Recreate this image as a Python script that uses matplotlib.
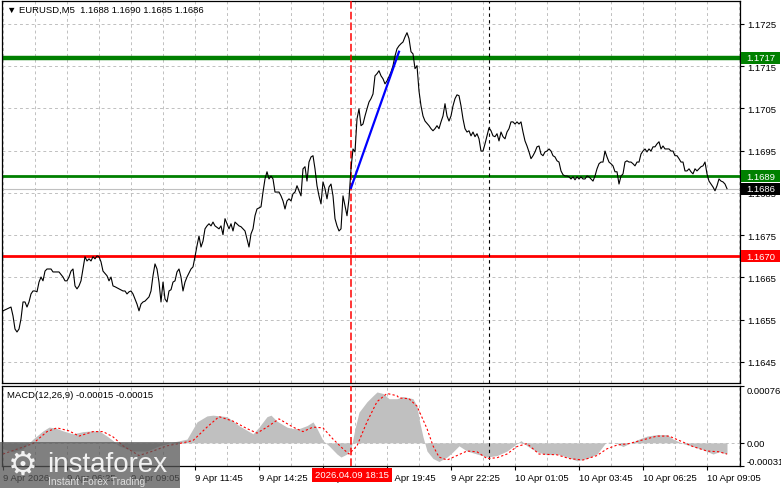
import numpy as np
import matplotlib
matplotlib.use("Agg")
import matplotlib.pyplot as plt
from matplotlib.patches import Rectangle
from matplotlib.transforms import blended_transform_factory

plt.rcParams['font.family'] = ['Liberation Sans', 'DejaVu Sans']

# EURUSD M5, bar numbers counted from 9 Apr 03:45
bar_idx = [0, 4, 5, 6, 7, 8, 9, 10, 11, 12, 13, 14, 15, 16, 17, 18, 19, 20, 21, 22,
           24, 25, 28, 30, 31, 32, 33, 34, 35, 36, 37, 38, 39, 40, 41, 42, 43, 44, 45, 46,
           47, 48, 49, 50, 52, 53, 54, 55, 56, 58, 60, 61, 62, 63, 64, 65, 66, 67, 68, 69,
           70, 71, 73, 74, 75, 76, 77, 78, 79, 80, 81, 82, 83, 84, 85, 86, 87, 88, 89, 90,
           91, 92, 94, 95, 96, 97, 98, 99, 100, 101, 102, 103, 104, 105, 106, 108, 109, 110, 111, 112,
           113, 114, 115, 116, 118, 119, 120, 121, 122, 123, 124, 125, 126, 127, 129, 130, 131, 132, 133, 134,
           135, 136, 138, 139, 140, 141, 142, 143, 144, 145, 146, 147, 148, 149, 150, 151, 152, 153, 154, 155,
           156, 157, 158, 159, 160, 161, 162, 163, 164, 165, 166, 167, 168, 169, 170, 171, 172, 173, 174, 175,
           176, 177, 178, 179, 180, 181, 182, 183, 184, 185, 186, 187, 188, 189, 190, 191, 192, 193, 194, 195,
           196, 197, 198, 199, 200, 201, 202, 203, 204, 205, 206, 207, 208, 209, 210, 211, 213, 214, 215, 216,
           217, 218, 219, 220, 221, 222, 223, 224, 225, 226, 227, 228, 229, 230, 231, 232, 233, 234, 235, 236,
           237, 238, 239, 240, 241, 242, 243, 244, 245, 246, 247, 248, 249, 250, 251, 252, 253, 254, 255, 256,
           257, 258, 259, 260, 261, 262, 263, 264, 265, 266, 267, 268, 269, 270, 271, 272, 273, 274, 275, 276,
           277, 278, 279, 280, 281, 282, 283, 284, 285, 286, 287, 288, 289, 290, 291, 292, 293, 295, 296, 297,
           298, 299, 300, 301, 302, 303, 304, 305, 306, 307, 308, 309, 310, 311, 312, 313, 314, 315, 316, 317,
           318, 319, 320, 321, 322, 323, 324, 325, 326, 327, 328, 329, 330, 331, 332, 333, 334, 335, 336, 337,
           338, 339, 340, 341, 342, 343, 344, 345, 346, 347, 348, 349, 350, 351, 352, 353, 354, 355, 356, 357,
           358, 359, 360, 361, 362]
close = [1.16571, 1.16580, 1.16559, 1.16528, 1.16521, 1.16528, 1.16552, 1.16592, 1.16592, 1.16580,
         1.16592, 1.16611, 1.16618, 1.16618, 1.16616, 1.16639, 1.16651, 1.16642, 1.16665, 1.16670,
         1.16670, 1.16663, 1.16663, 1.16651, 1.16642, 1.16642, 1.16651, 1.16665, 1.16670, 1.16630,
         1.16623, 1.16630, 1.16642, 1.16670, 1.16699, 1.16689, 1.16694, 1.16689, 1.16699, 1.16694,
         1.16701, 1.16699, 1.16687, 1.16665, 1.16654, 1.16642, 1.16651, 1.16630, 1.16628, 1.16623,
         1.16618, 1.16618, 1.16611, 1.16616, 1.16618, 1.16611, 1.16599, 1.16587, 1.16571, 1.16587,
         1.16592, 1.16594, 1.16604, 1.16618, 1.16654, 1.16682, 1.16670, 1.16639, 1.16592, 1.16639,
         1.16599, 1.16592, 1.16618, 1.16621, 1.16639, 1.16642, 1.16663, 1.16670, 1.16651, 1.16618,
         1.16639, 1.16651, 1.16670, 1.16675, 1.16699, 1.16725, 1.16748, 1.16722, 1.16736, 1.16765,
         1.16772, 1.16777, 1.16772, 1.16781, 1.16772, 1.16765, 1.16772, 1.16751, 1.16789, 1.16777,
         1.16765, 1.16777, 1.16760, 1.16781, 1.16772, 1.16770, 1.16765, 1.16760, 1.16741, 1.16722,
         1.16753, 1.16765, 1.16796, 1.16812, 1.16817, 1.16852, 1.16883, 1.16900, 1.16883, 1.16890,
         1.16883, 1.16852, 1.16852, 1.16843, 1.16831, 1.16812, 1.16831, 1.16836, 1.16831, 1.16848,
         1.16852, 1.16867, 1.16855, 1.16843, 1.16907, 1.16912, 1.16878, 1.16923, 1.16935, 1.16938,
         1.16907, 1.16867, 1.16843, 1.16824, 1.16876, 1.16860, 1.16836, 1.16864, 1.16871, 1.16843,
         1.16789, 1.16772, 1.16760, 1.16765, 1.16843, 1.16819, 1.16796, 1.16836, 1.16907, 1.16954,
         1.16947, 1.17025, 1.17049, 1.17009, 1.17013, 1.17032, 1.17049, 1.17065, 1.17073, 1.17084,
         1.17127, 1.17132, 1.17139, 1.17127, 1.17120, 1.17108, 1.17115, 1.17125, 1.17136, 1.17151,
         1.17174, 1.17191, 1.17198, 1.17203, 1.17207, 1.17219, 1.17229, 1.17215, 1.17184, 1.17179,
         1.17144, 1.17151, 1.17091, 1.17056, 1.17032, 1.17020, 1.17009, 1.17002, 1.16997, 1.17002,
         1.17009, 1.17002, 1.17018, 1.17032, 1.17061, 1.17032, 1.17020, 1.17032, 1.17056, 1.17073,
         1.17082, 1.17080, 1.17056, 1.17025, 1.17002, 1.16994, 1.16997, 1.16985, 1.16994, 1.16983,
         1.16990, 1.16978, 1.16949, 1.16949, 1.16966, 1.16985, 1.17004, 1.16997, 1.16985, 1.16983,
         1.16990, 1.16973, 1.16994, 1.16983, 1.16978, 1.16994, 1.17002, 1.17018, 1.17018, 1.17013,
         1.17018, 1.17013, 1.17018, 1.16994, 1.16973, 1.16961, 1.16947, 1.16931, 1.16938, 1.16947,
         1.16959, 1.16961, 1.16942, 1.16938, 1.16947, 1.16949, 1.16954, 1.16949, 1.16938, 1.16935,
         1.16926, 1.16923, 1.16902, 1.16893, 1.16890, 1.16890, 1.16888, 1.16883, 1.16888, 1.16881,
         1.16888, 1.16883, 1.16888, 1.16883, 1.16883, 1.16890, 1.16888, 1.16878, 1.16890, 1.16907,
         1.16919, 1.16923, 1.16923, 1.16949, 1.16935, 1.16923, 1.16919, 1.16914, 1.16900, 1.16900,
         1.16871, 1.16890, 1.16895, 1.16923, 1.16926, 1.16923, 1.16923, 1.16919, 1.16914, 1.16923,
         1.16923, 1.16942, 1.16949, 1.16954, 1.16947, 1.16954, 1.16949, 1.16959, 1.16959, 1.16966,
         1.16971, 1.16954, 1.16961, 1.16954, 1.16954, 1.16954, 1.16949, 1.16949, 1.16938, 1.16938,
         1.16931, 1.16923, 1.16923, 1.16902, 1.16902, 1.16907, 1.16900, 1.16895, 1.16907, 1.16902,
         1.16907, 1.16912, 1.16914, 1.16923, 1.16895, 1.16878, 1.16871, 1.16864, 1.16855, 1.16867,
         1.16883, 1.16878, 1.16876, 1.16871, 1.16860]

# MACD(12,26,9) main (histogram) and signal, in units of 0.00001
macd_bar = [0, 5, 10, 15, 20, 23, 26, 30, 35, 40, 45, 48, 52, 55, 58, 65, 72, 78, 85, 92,
            97, 102, 105, 112, 118, 125, 128, 132, 134, 137, 142, 145, 148, 152, 155, 157, 160, 163, 167, 169,
            172, 174, 176, 178, 182, 185, 187, 190, 193, 197, 200, 205, 207, 208, 210, 212, 215, 218, 222, 225,
            228, 232, 237, 242, 247, 252, 257, 259, 262, 267, 272, 277, 282, 287, 292, 297, 301, 303, 307, 310,
            313, 318, 322, 327, 332, 335, 340, 345, 350, 355, 358, 362]
macd_main = [-8, -12, -8, 5, 16, 21, 20, 16, 12, 15, 16, 16, 9, 3, -4, -11, -11, -4, 1, 5,
             28, 36, 37, 35, 23, 12, 21, 35, 37, 29, 21, 19, 19, 23, 28, 19, 3, -4, -15, -19,
             -15, -8, 19, 41, 55, 63, 68, 66, 59, 59, 62, 59, 49, 32, 8, -11, -21, -25, -19, -12,
             -4, -11, -15, -19, -17, -11, -1, 3, -4, -12, -16, -15, -19, -24, -21, -15, -1, 1, -1, -5,
             -1, 5, 9, 11, 11, 5, -1, -5, -9, -15, -12, -15]
signal_bar = [0, 15, 22, 27, 33, 38, 45, 50, 55, 60, 68, 75, 82, 88, 95, 102, 108, 115, 122, 127,
              132, 138, 145, 150, 155, 160, 165, 170, 173, 177, 182, 187, 192, 197, 198, 203, 207, 212, 215, 218,
              222, 227, 232, 237, 242, 247, 252, 257, 262, 268, 277, 283, 290, 297, 302, 307, 313, 320, 327, 333,
              340, 345, 352, 358, 362]
macd_signal = [-15, -1, 15, 20, 16, 9, 15, 15, 8, -4, -17, -11, -4, -1, 3, 21, 35, 29, 19, 13,
               21, 32, 21, 15, 21, 20, 5, -8, -15, -4, 28, 55, 66, 63, 60, 59, 49, 19, -4, -19,
               -23, -17, -11, -12, -21, -20, -15, -5, -1, -15, -16, -21, -23, -17, -8, -3, -1, 4, 9, 9,
               1, -5, -11, -12, -15]

tick_bars = [0, 32, 64, 96, 128, 160, 192, 224, 256, 288, 320, 352]
tick_labels = ["9 Apr 2026", "9 Apr 06:25", "9 Apr 09:05", "9 Apr 11:45", "9 Apr 14:25",
               "9 Apr 17:05", "9 Apr 19:45", "9 Apr 22:25", "10 Apr 01:05", "10 Apr 03:45",
               "10 Apr 06:25", "10 Apr 09:05"]
price_ticks = [1.1645, 1.1655, 1.1665, 1.1675, 1.1685, 1.1695, 1.1705, 1.1715, 1.1725]

level_high = 1.1717
level_mid = 1.1689
level_low = 1.1670
bid = 1.1686
news_bar = 174        # 2026.04.09 18:15
day_bar = 243         # 10 Apr 00:00
trend_bars = [174, 198]
trend_prices = [1.16862, 1.17184]

W, H = 781, 489
fig = plt.figure(figsize=(W / 100, H / 100), dpi=100)
fig.patch.set_facecolor('white')
ax1 = fig.add_axes([2 / W, 1 - 384 / H, 738 / W, 382 / H])
ax2 = fig.add_axes([2 / W, 1 - 467 / H, 738 / W, 80 / H])

grid_kw = dict(color='#c0c0c0', lw=0.7, linestyle=(0, (3, 3)))
fs = 6.8

for ax in (ax1, ax2):
    ax.set_xlim(-0.5, 368.5)
    for s in ax.spines.values():
        s.set_color('black')
        s.set_linewidth(0.9)
    ax.yaxis.tick_right()
    ax.set_xticks(range(0, 369, 16), minor=True)
    ax.grid(True, which='both', axis='x', **grid_kw)
    ax.axvline(news_bar, color='#ff0000', lw=1.1, linestyle=(0, (5, 2)), zorder=3)
    ax.axvline(day_bar, color='black', lw=0.8, linestyle=(0, (3, 3)), zorder=3)
    ax.tick_params(which='minor', length=0)

# main price panel
ax1.set_ylim(1.164003, 1.17304)
ax1.set_yticks(price_ticks)
ax1.set_yticklabels(['%.4f' % p for p in price_ticks])
ax1.grid(True, axis='y', **grid_kw)
ax1.set_xticks(tick_bars)
ax1.tick_params(axis='x', length=0, labelbottom=False)
ax1.tick_params(axis='y', length=3, width=0.8, pad=2, labelsize=fs)

ax1.axhline(level_high, color='#008000', lw=3.2, zorder=2)
ax1.axhline(level_mid, color='#008000', lw=2.0, zorder=2)
ax1.axhline(level_low, color='#ff0000', lw=2.0, zorder=2)
ax1.axhline(bid, color='#c0c0c0', lw=0.8, zorder=2)
ax1.plot(bar_idx, close, color='black', lw=0.8, zorder=4)
ax1.plot(trend_bars, trend_prices, color='#0000ff', lw=1.6, zorder=5)

# price boxes on the right scale
trans = blended_transform_factory(ax1.transAxes, ax1.transData)
box_h = 12 * (1.17304 - 1.164003) / 382
for lvl, col in [(level_high, '#008000'), (level_mid, '#008000'), (bid, 'black'), (level_low, '#ff0000')]:
    ax1.add_patch(Rectangle((1 + 1 / 738, lvl - box_h / 2), 39 / 738, box_h, transform=trans,
                            facecolor=col, edgecolor='none', clip_on=False, zorder=10))
    ax1.text(1 + 6 / 738, lvl, '%.4f' % lvl, transform=trans, color='white', fontsize=fs,
             va='center', ha='left', clip_on=False, zorder=11)

# MACD panel
macd_main = np.array(macd_main) * 1e-5
macd_signal = np.array(macd_signal) * 1e-5
ax2.set_ylim(-0.00031, 0.00076)
ax2.axhline(0, **grid_kw)
ax2.fill_between(macd_bar, 0, macd_main, color='#c0c0c0', lw=0, zorder=2)
ax2.plot(signal_bar, macd_signal, color='#ff0000', lw=0.8, linestyle=(0, (2, 2)), zorder=4)
ax2.set_yticks([0.00076, 0, -0.00031])
ax2.set_yticklabels(['0.00076', '0.00', '-0.00031'])
ax2.tick_params(axis='y', length=3, width=0.8, pad=2, labelsize=fs)
lbls = ax2.get_yticklabels()
lbls[0].set_va('top')
lbls[2].set_va('bottom')
ax2.set_xticks(tick_bars)
ax2.set_xticklabels(tick_labels, ha='left')
ax2.tick_params(axis='x', length=3, width=0.8, pad=2, labelsize=fs)

tb = blended_transform_factory(ax2.transData, ax2.transAxes)
ax2.text(news_bar + 0.5, -0.055, '2026.04.09 18:15', transform=tb, ha='center', va='top',
         color='white', fontsize=fs, clip_on=False, zorder=12,
         bbox=dict(facecolor='#ff0000', edgecolor='none', boxstyle='square,pad=0.3'))

# titles
fig.text(7 / W, 1 - 10 / H, '\u25bc EURUSD,M5  1.1688 1.1690 1.1685 1.1686', fontsize=fs, va='center')
fig.text(7 / W, 1 - 395 / H, 'MACD(12,26,9) -0.00015 -0.00015', fontsize=fs, va='center')

# watermark
fig.patches.append(Rectangle((0, 0), 180 / W, 46 / H, transform=fig.transFigure,
                             facecolor='#555555', alpha=0.75, edgecolor='none', zorder=20))
fig.text(47 / W, 1 - 472 / H, 'instaforex', fontsize=20, color='white', alpha=0.9,
         va='baseline', zorder=21)
fig.text(48 / W, 1 - 485 / H, 'Instant Forex Trading', fontsize=7.4, color='#dddddd',
         va='baseline', zorder=21)
fig.text(23 / W, 1 - 465 / H, '\u2699', fontsize=24, color='white', alpha=0.9,
         family='DejaVu Sans', ha='center', va='center', zorder=21)

fig.savefig('out.png', dpi=100)
